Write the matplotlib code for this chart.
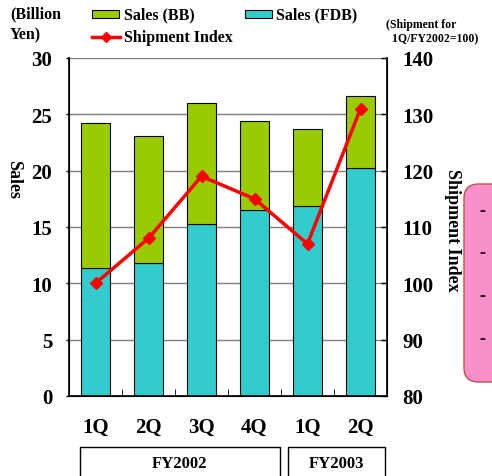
import matplotlib
matplotlib.use("Agg")
import matplotlib.pyplot as plt
from matplotlib.patches import FancyBboxPatch, Rectangle
from matplotlib.lines import Line2D
import numpy as np

quarters = ["1Q", "2Q", "3Q", "4Q", "1Q", "2Q"]
sales_fdb = [11.4, 11.8, 15.3, 16.5, 16.9, 20.2]
sales_total = [24.2, 23.1, 26.0, 24.4, 23.7, 26.6]
sales_bb = [t - f for t, f in zip(sales_total, sales_fdb)]
shipment_index = [100, 108, 119, 115, 107, 131]
years = ["FY2002", "FY2003"]

plt.rcParams['font.family'] = ['Liberation Serif', 'DejaVu Serif']
plt.rcParams['font.weight'] = 'bold'

W, H = 492, 477
fig = plt.figure(figsize=(W/100, H/100), dpi=100)
ax = fig.add_axes([69/W, 1-397/H, (387-69)/W, (397-59)/H])
x = np.arange(len(quarters))

ax.set_xlim(-0.5, len(quarters)-0.5)
ax.set_ylim(0, 30)
ax.set_yticks(range(0, 31, 5))
ax.yaxis.grid(True, color='#808080', lw=1)
ax.set_axisbelow(True)

ax.bar(x, sales_fdb, width=0.56, color='#33CCCC', edgecolor='black', lw=0.8, zorder=2)
ax.bar(x, sales_bb, bottom=sales_fdb, width=0.56, color='#99CC00', edgecolor='black', lw=0.8, zorder=2)

ax2 = ax.twinx()
ax2.set_ylim(80, 140)
ax2.set_yticks(range(80, 141, 10))
ax2.plot(x, shipment_index, color='#FF0000', lw=2.5, marker='D', ms=6, zorder=3)

for a in (ax, ax2):
    a.spines['top'].set_visible(False)
ax.tick_params(axis='y', labelsize=15, width=1, length=2, pad=10)
ax2.tick_params(axis='y', labelsize=15, width=1, length=4, direction='in', pad=11)
ax.spines['left'].set_linewidth(1.2)
ax2.spines['right'].set_linewidth(1.2)
ax.spines['bottom'].set_linewidth(1.2)

ax.set_xticks(x)
ax.set_xticklabels(quarters, fontsize=15, fontweight='bold')
ax.tick_params(axis='x', length=0, pad=15)
ax.set_xticks(np.arange(0.5, len(quarters)-1, 1), minor=True)
ax.tick_params(axis='x', which='minor', direction='in', length=5)
for lab in ax.get_yticklabels() + ax2.get_yticklabels():
    lab.set_fontweight('bold')

fig.text(14/W, 1-180/H, "Sales", rotation=-90, fontsize=13, fontweight='bold', ha='center', va='center')
fig.text(453/W, 1-230/H, "Shipment Index", rotation=-90, fontsize=13, fontweight='bold', ha='center', va='center')
fig.text(10/W, 1-6/H, "(Billion\nYen)", fontsize=11.5, fontweight='bold', ha='left', va='top', linespacing=1.45)
fig.text(386/W, 1-19/H, "(Shipment for\n  1Q/FY2002=100)", fontsize=8.5, fontweight='bold', ha='left', va='top', linespacing=1.2)

# legend
fig.patches.append(Rectangle((92/W, 1-19/H), 27/W, 8/H, transform=fig.transFigure, facecolor='#99CC00', edgecolor='black', lw=0.8))
fig.text(124/W, 1-15/H, "Sales (BB)", fontsize=11.5, fontweight='bold', va='center')
fig.patches.append(Rectangle((245/W, 1-19/H), 27/W, 8/H, transform=fig.transFigure, facecolor='#33CCCC', edgecolor='black', lw=0.8))
fig.text(276/W, 1-15/H, "Sales (FDB)", fontsize=11.5, fontweight='bold', va='center')
fig.lines.append(Line2D([92/W, 120/W], [1-38/H, 1-38/H], transform=fig.transFigure, color='#FF0000', lw=2.5))
fig.lines.append(Line2D([106/W], [1-38/H], transform=fig.transFigure, color='#FF0000', marker='D', ms=5))
fig.text(124/W, 1-38/H, "Shipment Index", fontsize=11.5, fontweight='bold', va='center')

# group boxes
for (x0, x1, label) in [(80, 280, years[0]), (288, 385, years[1])]:
    fig.lines.append(Line2D([x0/W, x0/W, x1/W, x1/W], [0, 1-448/H, 1-448/H, 0], transform=fig.transFigure, color='black', lw=1))
    fig.text((x0+x1)/2/W, 1-464/H, label, fontsize=12, fontweight='bold', ha='center', va='center')

# pink box (clipped)
fig.patches.append(FancyBboxPatch((464/W, 1-383/H), 60/W, 198/H, boxstyle="round,pad=0,rounding_size=0.03",
                                  transform=fig.transFigure, facecolor='#F98FCB', edgecolor='#C0504D', lw=1))
for yy in [212, 254, 297, 340]:
    fig.text(482/W, 1-yy/H, "-", fontsize=13, fontweight='bold', ha='center', va='center')

fig.savefig("out.png", dpi=100)
